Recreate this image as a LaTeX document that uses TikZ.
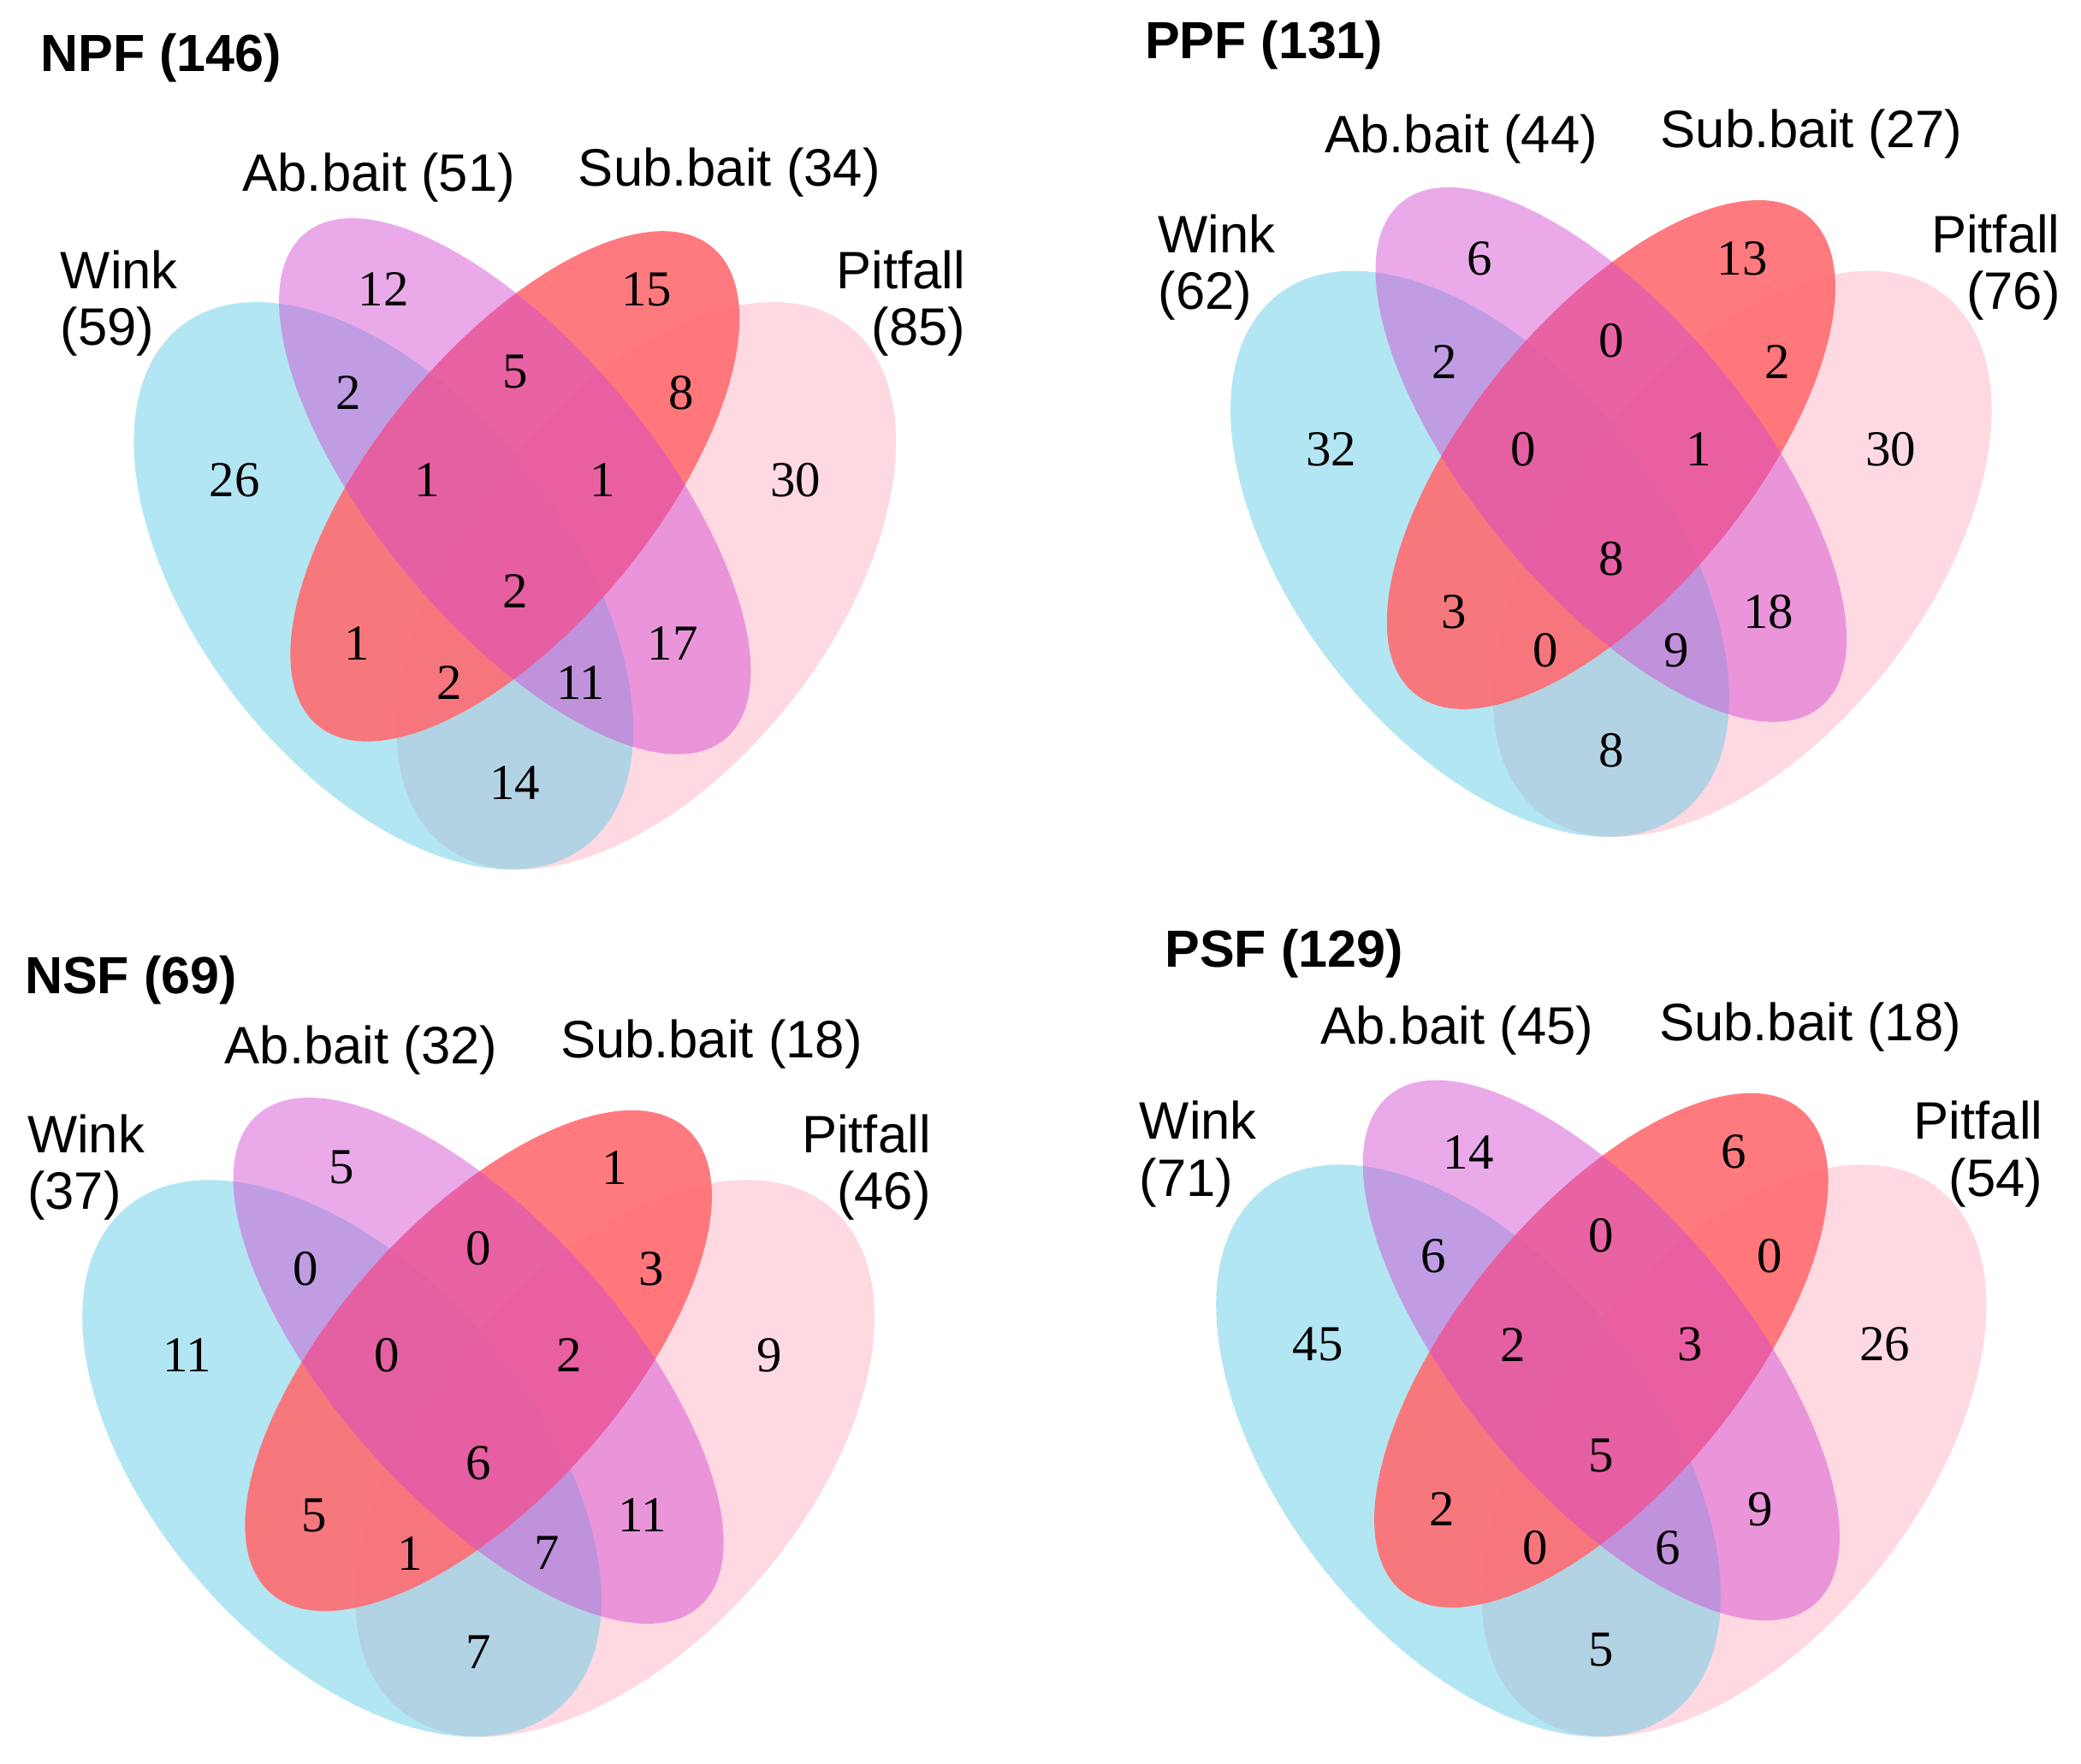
\documentclass[tikz,border=0pt]{standalone}
\usepackage{fontspec}
\setmainfont{Liberation Serif}
\setsansfont{Liberation Sans}
\definecolor{winkblue}{RGB}{103,205,231}
\definecolor{abpurple}{RGB}{209,70,209}
\definecolor{subred}{RGB}{255,108,113}
\definecolor{pitpink}{RGB}{255,179,197}
\tikzset{
  wink/.style={fill=winkblue,fill opacity=0.5},
  abbait/.style={fill=abpurple,fill opacity=0.46},
  subbait/.style={fill=subred,fill opacity=0.9},
  pitfall/.style={fill=pitpink,fill opacity=0.5},
  regioncount/.style={inner sep=0pt,font=\fontsize{10.8}{12}\selectfont},
  setlabel/.style={inner sep=0pt,font=\sffamily\fontsize{11.3}{12.2}\selectfont},
  venntitle/.style={inner sep=0pt,anchor=base west,font=\sffamily\bfseries\fontsize{11.2}{13}\selectfont}
}
% #1 name, #2/#3 origin, #4/#5 scale, #6 counts
\newcommand{\quadvenn}[6]{%
  \begin{scope}[shift={(#2,#3)},xscale=#4,yscale=#5]
    % Ellipses
    \fill[pitfall,rotate around={45:(0.65,0.47)}] (0.65,0.47) ellipse (0.35 and 0.20);
    \fill[wink,rotate around={135:(0.35,0.47)}] (0.35,0.47) ellipse (0.35 and 0.20);
    \fill[subbait,rotate around={45:(0.50,0.57)}] (0.50,0.57) ellipse (0.33 and 0.15);
    \fill[abbait,rotate around={135:(0.50,0.57)}] (0.50,0.57) ellipse (0.35 and 0.15);
    % Regions
    \foreach \rg/\u/\v in {w/0.18/0.576,a/0.35/0.768,s/0.65/0.768,p/0.82/0.576,
      wa/0.31/0.664,as/0.50/0.685,sp/0.69/0.664,was/0.40/0.576,asp/0.60/0.576,
      wasp/0.50/0.465,ws/0.32/0.412,ap/0.68/0.412,wsp/0.425/0.373,wap/0.575/0.373,wp/0.50/0.272}
      \coordinate (#1-\rg) at (\u,\v);
    % Counts
    \foreach \rg/\cnt in {#6}
      \node[regioncount] (#1-n\rg) at (#1-\rg) {\cnt};
  \end{scope}}
\begin{document}
\begin{tikzpicture}
  \useasboundingbox (0,0) rectangle (15.68,-13.29);
  % NPF
  \quadvenn{npf}{0.58}{-7.94}{6.60}{7.50}{w/26,a/12,s/15,p/30,wa/2,as/5,sp/8,was/1,asp/1,wasp/2,ws/1,ap/17,wsp/2,wap/11,wp/14}
  \node[venntitle] (npf-title) at (0.30,-0.54) {NPF (146)};
  \node[setlabel,anchor=north west,align=left] (npf-wink) at (0.45,-1.88) {Wink\\(59)};
  \node[setlabel,anchor=base] (npf-ab) at (2.855,-1.44) {Ab.bait (51)};
  \node[setlabel,anchor=base] (npf-sub) at (5.495,-1.40) {Sub.bait (34)};
  \node[setlabel,anchor=north east,align=right] (npf-pit) at (7.28,-1.88) {Pitfall\\(85)};
  % PPF
  \quadvenn{ppf}{8.844}{-7.69}{6.59}{7.48}{w/32,a/6,s/13,p/30,wa/2,as/0,sp/2,was/0,asp/1,wasp/8,ws/3,ap/18,wsp/0,wap/9,wp/8}
  \node[venntitle] (ppf-title) at (8.62,-0.44) {PPF (131)};
  \node[setlabel,anchor=north west,align=left] (ppf-wink) at (8.72,-1.61) {Wink\\(62)};
  \node[setlabel,anchor=base] (ppf-ab) at (11.01,-1.15) {Ab.bait (44)};
  \node[setlabel,anchor=base] (ppf-sub) at (13.65,-1.11) {Sub.bait (27)};
  \node[setlabel,anchor=north east,align=right] (ppf-pit) at (15.53,-1.61) {Pitfall\\(76)};
  % NSF
  \quadvenn{nsf}{0.175}{-14.45}{6.86}{7.36}{w/11,a/5,s/1,p/9,wa/0,as/0,sp/3,was/0,asp/2,wasp/6,ws/5,ap/11,wsp/1,wap/7,wp/7}
  \node[venntitle] (nsf-title) at (0.18,-7.49) {NSF (69)};
  \node[setlabel,anchor=north west,align=left] (nsf-wink) at (0.20,-8.39) {Wink\\(37)};
  \node[setlabel,anchor=base] (nsf-ab) at (2.72,-8.02) {Ab.bait (32)};
  \node[setlabel,anchor=base] (nsf-sub) at (5.36,-7.97) {Sub.bait (18)};
  \node[setlabel,anchor=north east,align=right] (nsf-pit) at (7.02,-8.39) {Pitfall\\(46)};
  % PSF
  \quadvenn{psf}{8.73}{-14.486}{6.67}{7.56}{w/45,a/14,s/6,p/26,wa/6,as/0,sp/0,was/2,asp/3,wasp/5,ws/2,ap/9,wsp/0,wap/6,wp/5}
  \node[venntitle] (psf-title) at (8.77,-7.29) {PSF (129)};
  \node[setlabel,anchor=north west,align=left] (psf-wink) at (8.58,-8.29) {Wink\\(71)};
  \node[setlabel,anchor=base] (psf-ab) at (10.98,-7.87) {Ab.bait (45)};
  \node[setlabel,anchor=base] (psf-sub) at (13.64,-7.84) {Sub.bait (18)};
  \node[setlabel,anchor=north east,align=right] (psf-pit) at (15.40,-8.29) {Pitfall\\(54)};
\end{tikzpicture}
\end{document}
